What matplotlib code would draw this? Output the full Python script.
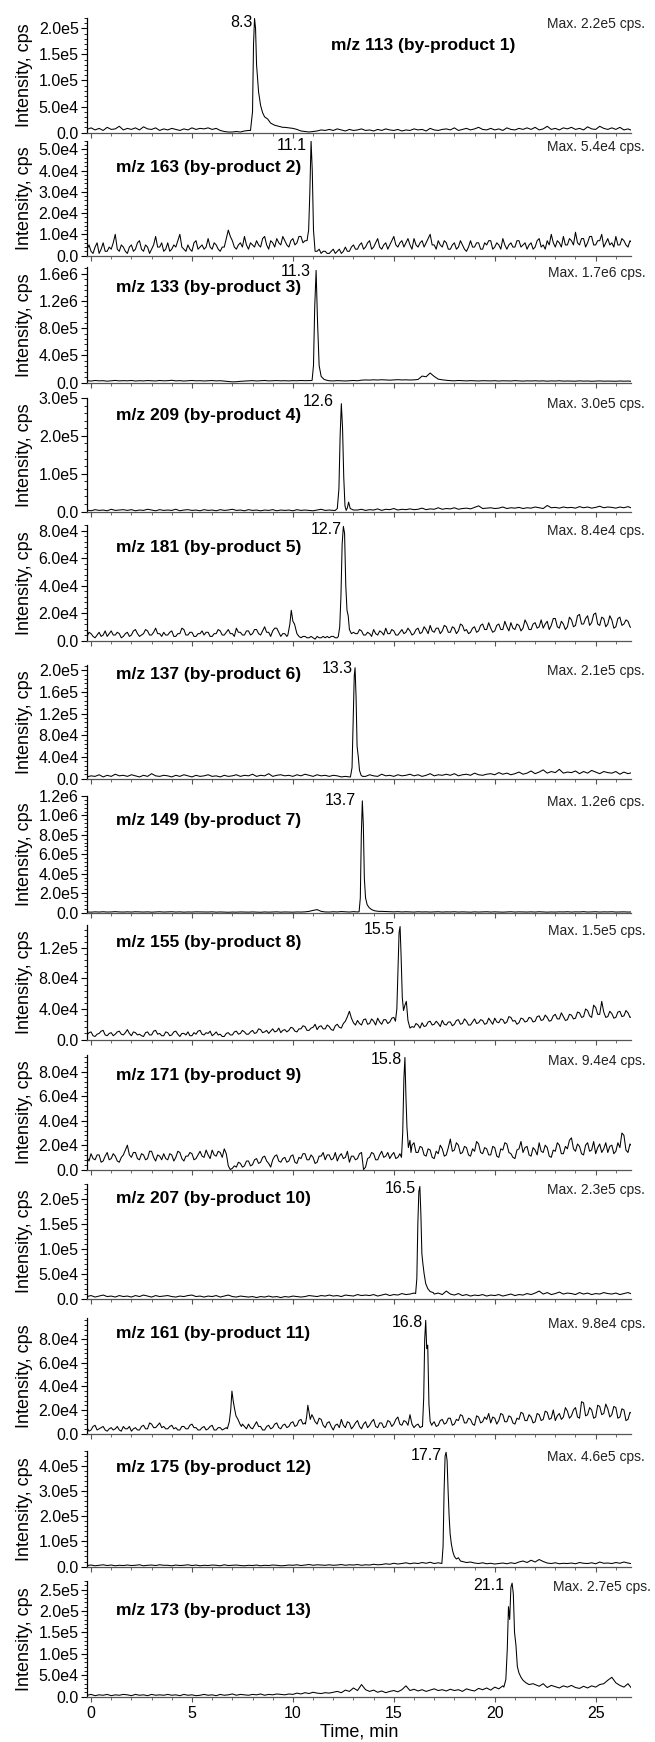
import numpy as np
import matplotlib
matplotlib.use("Agg")
import matplotlib.pyplot as plt
from matplotlib.ticker import MultipleLocator, AutoMinorLocator, FuncFormatter
from matplotlib.transforms import blended_transform_factory

plt.rcParams['font.family'] = ['Liberation Sans', 'DejaVu Sans']

# ---------------- data (intensities in 1e3 cps) ----------------
# baseline lists are sampled evenly from T_START to T_END (min)
T_START, T_END = -0.2, 26.8

titles = ["m/z 113 (by-product 1)", "m/z 163 (by-product 2)", "m/z 133 (by-product 3)",
          "m/z 209 (by-product 4)", "m/z 181 (by-product 5)", "m/z 137 (by-product 6)",
          "m/z 149 (by-product 7)", "m/z 155 (by-product 8)", "m/z 171 (by-product 9)",
          "m/z 207 (by-product 10)", "m/z 161 (by-product 11)", "m/z 175 (by-product 12)",
          "m/z 173 (by-product 13)"]
peak_labels = ["8.3", "11.1", "11.3", "12.6", "12.7", "13.3", "13.7", "15.5", "15.8",
               "16.5", "16.8", "17.7", "21.1"]
max_cps = [2.2e5, 5.4e4, 1.7e6, 3.0e5, 8.4e4, 2.1e5, 1.2e6, 1.5e5, 9.4e4, 2.3e5, 9.8e4, 4.6e5, 2.7e5]
max_labels = ["Max. 2.2e5 cps.", "Max. 5.4e4 cps.", "Max. 1.7e6 cps.", "Max. 3.0e5 cps.",
              "Max. 8.4e4 cps.", "Max. 2.1e5 cps.", "Max. 1.2e6 cps.", "Max. 1.5e5 cps.",
              "Max. 9.4e4 cps.", "Max. 2.3e5 cps.", "Max. 9.8e4 cps.", "Max. 4.6e5 cps.",
              "Max. 2.7e5 cps."]
tick_step = [5e4, 1e4, 4e5, 1e5, 2e4, 4e4, 2e5, 4e4, 2e4, 5e4, 2e4, 1e5, 5e4]
x_ticks = [0, 5, 10, 15, 20, 25]

base_1 = [6, 9, 5, 8, 4, 10, 6, 7, 12, 5,
          8, 6, 9, 5, 11, 7, 6, 9, 4, 7,
          5, 8, 6, 4, 7, 5, 9, 6, 8, 7,
          9, 6, 8, 4, 2, 1, 1, 2, 1, 3,
          4, 30, 120, 50, 30, 22, 16, 13, 11, 10,
          9, 8, 6, 3, 2, 1, 2, 3, 5, 4,
          6, 4, 7, 5, 3, 6, 4, 5, 7, 4,
          5, 3, 6, 4, 7, 5, 4, 6, 3, 5,
          4, 7, 5, 6, 3, 8, 5, 4, 6, 7,
          5, 9, 4, 6, 8, 5, 7, 10, 6, 5,
          8, 5, 7, 4, 9, 6, 5, 8, 6, 9,
          6, 10, 5, 7, 12, 6, 8, 5, 9, 7,
          10, 6, 8, 5, 11, 7, 6, 12, 8, 6,
          9, 6, 10, 5, 7, 4]
peak_1 = [([7.9, 8.0, 8.05, 8.1, 8.15, 8.2, 8.3, 8.4, 8.5, 8.6, 8.75, 8.9, 9.1, 9.3, 9.5],
           [4, 40, 170, 219, 200, 130, 78, 52, 38, 30, 26, 18, 14, 12, 10])]

base_2 = [3, 5, 2, 1, 4, 6, 1, 3, 6, 2, 2, 4, 3, 6, 10, 3, 2, 5, 4, 2,
          1, 4, 5, 2, 3, 6, 7, 3, 2, 5, 4, 1, 3, 5, 9, 4, 4, 6, 2, 3,
          6, 2, 3, 5, 4, 7, 10, 4, 3, 2, 5, 3, 2, 6, 7, 3, 4, 5, 3, 4,
          8, 4, 3, 6, 5, 3, 2, 4, 4, 8, 12, 9, 7, 4, 3, 5, 6, 4, 9, 5,
          3, 6, 5, 4, 7, 5, 4, 8, 9, 5, 3, 7, 6, 4, 8, 6, 5, 9, 7, 5,
          4, 7, 8, 5, 6, 9, 9, 6, 7, 8, 30, 40, 12, 5, 2, 3, 1, 2, 2, 1,
          1, 2, 3, 1, 2, 3, 1, 2, 4, 2, 2, 4, 5, 3, 3, 5, 6, 3, 4, 6,
          7, 3, 4, 6, 8, 4, 3, 5, 6, 3, 5, 7, 9, 5, 4, 6, 7, 4, 6, 8,
          5, 3, 8, 5, 4, 6, 7, 4, 6, 8, 10, 5, 5, 3, 7, 5, 4, 7, 6, 3,
          3, 5, 6, 3, 4, 7, 5, 3, 2, 4, 7, 4, 4, 6, 6, 3, 3, 6, 5, 7,
          7, 3, 4, 6, 5, 3, 8, 5, 3, 5, 6, 4, 4, 7, 7, 4, 5, 6, 3, 5,
          6, 3, 4, 7, 8, 4, 5, 3, 7, 5, 10, 6, 4, 7, 6, 4, 9, 5, 5, 8,
          7, 5, 11, 6, 5, 8, 8, 4, 6, 9, 9, 5, 5, 7, 7, 10, 4, 6, 8, 5,
          6, 4, 9, 5, 5, 8, 7, 5, 4, 7, 6]
peak_2 = [([10.7, 10.78, 10.84, 10.9, 10.96, 11.02, 11.1],
           [7, 12, 30, 54, 40, 12, 2])]

base_3 = [28, 22, 30, 25, 27, 20, 26, 31, 24, 28,
          25, 30, 22, 27, 24, 29, 26, 23, 30, 25,
          27, 33, 24, 28, 22, 26, 30, 25, 27, 23,
          26, 29, 24, 27, 21, 14, 10, 12, 18, 22,
          25, 28, 23, 27, 30, 24, 26, 29, 25, 27,
          24, 28, 26, 30, 27, 29, 200, 400, 60, 30,
          26, 24, 28, 25, 23, 27, 30, 26, 35, 38,
          36, 40, 37, 41, 38, 35, 39, 42, 38, 40,
          37, 39, 45, 95, 85, 140, 90, 50, 40, 33,
          28, 25, 30, 27, 24, 28, 26, 23, 27, 25,
          24, 27, 22, 26, 25, 23, 28, 24, 21, 25,
          23, 26, 22, 25, 20, 24, 22, 26, 21, 23,
          22, 20, 25, 21, 23, 19, 22, 24, 20, 22,
          21, 19, 23, 20, 22, 18]
peak_3 = [([10.95, 11.02, 11.08, 11.15, 11.22, 11.3, 11.4, 11.55, 11.7],
           [30, 250, 1100, 1650, 900, 250, 90, 45, 32])]

base_4 = [4, 2, 5, 3, 4, 2, 6, 3, 4, 5,
          3, 5, 2, 4, 3, 6, 4, 2, 5, 3,
          4, 3, 6, 2, 4, 5, 3, 4, 2, 5,
          3, 4, 2, 5, 3, 4, 6, 3, 4, 2,
          5, 3, 4, 2, 4, 3, 5, 2, 4, 3,
          4, 2, 5, 3, 4, 3, 2, 4, 6, 3,
          4, 3, 5, 100, 150, 10, 2, 4, 6, 3,
          5, 4, 7, 3, 6, 5, 8, 4, 6, 5,
          7, 5, 6, 9, 5, 7, 6, 10, 6, 8,
          7, 10, 6, 8, 9, 7, 11, 15, 8, 9,
          10, 8, 9, 12, 8, 10, 9, 11, 8, 10,
          9, 12, 10, 8, 16, 10, 11, 9, 12, 10,
          11, 9, 13, 10, 12, 9, 11, 14, 10, 12,
          11, 9, 12, 10, 13, 9]
peak_4 = [([12.1, 12.2, 12.28, 12.34, 12.4, 12.46, 12.52, 12.58, 12.64, 12.7, 12.76, 12.84, 13.0],
           [3, 8, 60, 200, 285, 220, 90, 15, 3, 10, 25, 8, 4])]

base_5 = [3, 6, 5, 3, 2, 4, 6, 3, 4, 7, 3, 5, 7, 4, 4, 6, 5, 2, 3, 5,
          6, 3, 4, 7, 8, 5, 3, 4, 5, 8, 7, 4, 4, 6, 9, 5, 5, 3, 6, 4,
          4, 6, 7, 3, 3, 5, 5, 9, 8, 4, 4, 6, 6, 3, 3, 5, 5, 7, 4, 6,
          6, 3, 3, 5, 5, 8, 7, 4, 4, 6, 8, 5, 5, 3, 9, 6, 6, 4, 4, 7,
          7, 4, 5, 8, 8, 5, 4, 7, 10, 6, 6, 3, 7, 9, 9, 6, 3, 5, 5, 3,
          12, 20, 14, 12, 5, 3, 2, 3, 3, 2, 2, 3, 2, 1, 3, 2, 2, 3, 2, 3,
          2, 3, 3, 2, 2, 3, 3, 50, 50, 40, 40, 20, 6, 5, 5, 8, 7, 4, 4, 6,
          5, 3, 8, 5, 4, 7, 6, 4, 9, 5, 5, 8, 7, 4, 4, 6, 8, 5, 6, 9,
          7, 4, 5, 8, 9, 5, 6, 10, 8, 5, 11, 7, 6, 9, 9, 5, 7, 11, 10, 6,
          6, 10, 9, 5, 7, 12, 11, 7, 8, 5, 6, 9, 10, 6, 7, 11, 12, 8, 8, 13,
          9, 6, 7, 11, 12, 8, 8, 14, 10, 7, 13, 9, 8, 12, 11, 7, 9, 15, 12, 8,
          8, 12, 13, 9, 10, 15, 9, 12, 14, 8, 11, 16, 16, 10, 9, 14, 12, 8, 10, 17,
          15, 10, 11, 18, 19, 12, 12, 16, 18, 11, 13, 19, 20, 12, 11, 17, 16, 10, 12, 18,
          15, 9, 10, 16, 17, 11, 12, 15, 14, 10, 9]
peak_5 = [([9.75, 9.85, 9.92, 10.0, 10.08, 10.2, 10.3], [4, 12, 22, 14, 12, 5, 3]),
          ([12.25, 12.32, 12.38, 12.44, 12.5, 12.56, 12.62, 12.68, 12.74, 12.8, 12.9],
           [3, 10, 32, 70, 83, 78, 40, 22, 18, 8, 5])]

base_6 = [3, 5, 4, 7, 3, 6, 4, 8, 5, 6,
          4, 7, 5, 3, 6, 4, 9, 5, 4, 6,
          5, 3, 6, 4, 7, 5, 3, 6, 4, 5,
          7, 4, 5, 3, 6, 4, 5, 7, 4, 6,
          5, 8, 4, 6, 5, 9, 4, 6, 7, 5,
          6, 4, 7, 5, 8, 6, 4, 7, 5, 6,
          4, 6, 5, 3, 4, 3, 80, 20, 6, 4,
          7, 5, 4, 8, 5, 6, 4, 7, 5, 6,
          8, 5, 7, 4, 6, 9, 5, 7, 6, 8,
          6, 9, 5, 7, 8, 6, 10, 7, 6, 8,
          9, 7, 11, 8, 10, 7, 9, 12, 8, 10,
          14, 9, 12, 16, 10, 13, 11, 17, 10, 12,
          11, 14, 9, 13, 10, 15, 12, 9, 13, 11,
          10, 13, 8, 12, 9, 11]
peak_6 = [([12.85, 12.93, 12.99, 13.04, 13.08, 13.13, 13.18, 13.24, 13.3, 13.38, 13.45],
           [3, 20, 110, 190, 205, 150, 60, 40, 15, 6, 4])]

base_7 = [6, 4, 7, 5, 8, 5, 6, 9, 6, 5,
          7, 5, 8, 6, 5, 7, 4, 6, 8, 5,
          6, 8, 5, 7, 4, 6, 5, 7, 6, 4,
          5, 7, 4, 6, 5, 3, 5, 4, 6, 5,
          4, 6, 5, 3, 6, 4, 5, 7, 4, 6,
          5, 4, 6, 5, 7, 12, 22, 30, 12, 6,
          5, 8, 6, 10, 7, 5, 9, 6, 600, 200,
          60, 30, 18, 12, 10, 8, 7, 9, 6, 8,
          7, 5, 8, 6, 7, 5, 6, 8, 5, 7,
          6, 8, 5, 7, 6, 4, 7, 5, 6, 8,
          5, 7, 6, 4, 6, 8, 5, 7, 6, 5,
          7, 5, 8, 6, 4, 6, 5, 7, 6, 8,
          5, 7, 6, 9, 5, 6, 8, 5, 7, 6,
          8, 5, 6, 7, 5, 6]
peak_7 = [([13.28, 13.34, 13.39, 13.44, 13.49, 13.54, 13.6, 13.68, 13.78, 13.9, 14.05, 14.25],
           [8, 150, 800, 1150, 900, 350, 150, 80, 50, 30, 18, 12])]

base_8 = [6, 9, 10, 5, 4, 7, 8, 11, 12, 6, 5, 8, 9, 5, 7, 10, 11, 7, 6, 9,
          13, 8, 5, 10, 9, 6, 7, 5, 4, 9, 10, 6, 6, 11, 12, 7, 8, 5, 5, 10,
          9, 5, 6, 10, 11, 7, 4, 8, 8, 6, 10, 5, 5, 9, 7, 11, 12, 7, 6, 9,
          8, 11, 5, 7, 10, 6, 7, 4, 4, 8, 9, 6, 6, 10, 11, 7, 8, 12, 10, 7,
          7, 10, 12, 8, 9, 14, 13, 9, 10, 12, 8, 11, 14, 10, 11, 15, 9, 12, 13, 10,
          12, 16, 15, 11, 10, 14, 14, 18, 17, 12, 12, 15, 16, 20, 13, 17, 18, 14, 14, 19,
          17, 13, 12, 18, 20, 16, 15, 21, 24, 30, 37, 28, 22, 19, 25, 21, 19, 26, 27, 20,
          21, 27, 24, 19, 28, 23, 20, 26, 26, 21, 23, 28, 29, 24, 40, 80, 80, 60, 30, 40,
          22, 18, 16, 21, 19, 15, 22, 17, 18, 23, 24, 19, 20, 24, 21, 17, 25, 20, 19, 23,
          23, 18, 20, 25, 26, 20, 21, 27, 24, 19, 19, 23, 27, 21, 22, 26, 25, 20, 21, 28,
          24, 20, 28, 23, 22, 27, 26, 21, 23, 30, 29, 24, 25, 20, 22, 28, 27, 23, 24, 29,
          28, 23, 24, 30, 31, 25, 26, 32, 29, 24, 25, 31, 33, 27, 27, 35, 30, 25, 26, 33,
          32, 27, 28, 36, 35, 29, 30, 40, 38, 31, 29, 45, 42, 33, 33, 50, 36, 29, 30, 37,
          34, 28, 29, 36, 37, 30, 31, 38, 35, 29, 30]
peak_8 = [([15.08, 15.15, 15.21, 15.26, 15.31, 15.36, 15.42, 15.48, 15.55, 15.62, 15.7, 15.8, 15.9],
           [24, 40, 95, 140, 148, 110, 55, 38, 45, 50, 25, 15, 17])]

base_9 = [10, 7, 13, 9, 8, 12, 12, 6, 7, 11, 14, 8, 9, 13, 11, 7, 6, 10, 12, 16,
          20, 12, 10, 14, 14, 9, 8, 13, 12, 8, 9, 15, 15, 10, 7, 12, 11, 8, 13, 9,
          8, 13, 12, 7, 10, 15, 14, 9, 7, 11, 11, 14, 13, 8, 9, 12, 15, 11, 10, 16,
          12, 9, 16, 12, 11, 15, 14, 10, 17, 13, 3, 0, 1, 3, 2, 6, 5, 2, 3, 7,
          7, 3, 4, 8, 9, 5, 6, 10, 11, 7, 5, 2, 8, 11, 12, 7, 6, 9, 10, 6,
          7, 11, 12, 6, 5, 10, 9, 13, 13, 8, 8, 12, 10, 5, 6, 11, 11, 14, 8, 12,
          12, 8, 9, 14, 7, 11, 13, 9, 10, 15, 6, 11, 11, 8, 9, 13, 14, 0, 2, 9,
          10, 14, 13, 8, 8, 12, 15, 10, 11, 14, 9, 12, 14, 9, 10, 13, 12, 30, 50, 70,
          15, 20, 22, 14, 14, 19, 18, 12, 11, 17, 16, 10, 9, 15, 13, 20, 17, 11, 12, 18,
          25, 15, 16, 22, 20, 13, 14, 19, 18, 12, 11, 17, 15, 23, 21, 14, 13, 18, 17, 12,
          12, 19, 18, 11, 10, 17, 16, 22, 21, 14, 13, 10, 9, 16, 17, 23, 14, 18, 19, 12,
          11, 18, 16, 12, 22, 15, 14, 20, 18, 11, 10, 16, 15, 22, 20, 13, 13, 19, 17, 24,
          26, 17, 15, 21, 19, 13, 12, 20, 22, 15, 16, 23, 13, 18, 21, 14, 17, 22, 14, 19,
          20, 13, 15, 22, 18, 30, 28, 16, 14, 21, 19]
peak_9 = [([15.38, 15.44, 15.5, 15.55, 15.6, 15.65, 15.72, 15.8, 15.85],
           [10, 30, 75, 92, 60, 35, 18, 24, 14])]

base_10 = [4, 6, 3, 5, 7, 4, 5, 3, 6, 4,
           5, 3, 6, 4, 7, 5, 3, 6, 4, 5,
           6, 4, 3, 5, 4, 6, 7, 4, 5, 3,
           5, 4, 6, 3, 5, 7, 4, 3, 5, 4,
           3, 4, 2, 4, 3, 5, 3, 4, 2, 4,
           3, 5, 4, 3, 4, 6, 5, 4, 6, 5,
           7, 5, 6, 4, 7, 6, 5, 8, 6, 7,
           6, 8, 5, 7, 9, 6, 8, 7, 10, 8,
           9, 11, 200, 60, 20, 12, 9, 11, 8, 15,
           9, 7, 10, 6, 8, 5, 7, 6, 8, 5,
           7, 6, 8, 5, 7, 9, 6, 8, 7, 10,
           8, 11, 15, 9, 12, 8, 10, 13, 9, 11,
           10, 8, 12, 9, 11, 8, 10, 9, 12, 10,
           9, 11, 8, 10, 12, 9]
peak_10 = [([16.08, 16.14, 16.19, 16.24, 16.29, 16.34, 16.39, 16.44, 16.5, 16.58, 16.68, 16.8, 16.95],
            [10, 40, 150, 215, 225, 170, 90, 70, 50, 30, 20, 14, 12])]

base_11 = [5, 2, 3, 6, 7, 3, 4, 5, 6, 3, 2, 4, 5, 3, 4, 6, 3, 2, 6, 4,
           4, 6, 2, 4, 5, 3, 3, 6, 7, 4, 4, 9, 8, 5, 5, 7, 9, 5, 6, 4,
           4, 6, 7, 4, 5, 3, 3, 6, 6, 4, 4, 7, 8, 5, 5, 3, 3, 5, 6, 3,
           4, 6, 7, 3, 3, 5, 5, 3, 4, 5, 20, 30, 30, 20, 15, 12, 9, 8, 6, 4,
           8, 5, 4, 7, 10, 6, 6, 3, 3, 6, 7, 4, 5, 8, 9, 5, 4, 7, 8, 5,
           6, 9, 10, 6, 7, 11, 12, 8, 9, 7, 25, 18, 14, 10, 8, 13, 12, 7, 5, 9,
           10, 6, 3, 7, 8, 5, 12, 7, 5, 10, 9, 4, 6, 9, 11, 6, 4, 8, 10, 5,
           7, 10, 12, 6, 5, 9, 9, 5, 6, 11, 10, 6, 8, 12, 14, 8, 7, 11, 10, 7,
           16, 8, 5, 7, 8, 5, 6, 4, 50, 80, 60, 8, 10, 6, 7, 11, 12, 8, 9, 13,
           13, 7, 8, 12, 11, 16, 15, 9, 9, 13, 12, 8, 7, 15, 14, 9, 10, 14, 12, 17,
           9, 14, 13, 8, 11, 17, 16, 10, 10, 15, 14, 9, 8, 13, 12, 18, 17, 11, 11, 16,
           14, 9, 10, 17, 16, 11, 12, 19, 18, 12, 13, 20, 11, 15, 17, 12, 14, 22, 19, 13,
           15, 20, 22, 14, 13, 27, 26, 15, 16, 22, 20, 13, 14, 24, 23, 16, 17, 25, 21, 14,
           16, 23, 22, 13, 14, 21, 20, 11, 12, 18, 17]
peak_11 = [([6.75, 6.85, 6.92, 6.98, 7.04, 7.1, 7.18, 7.28, 7.38, 7.45],
            [4, 10, 20, 36, 28, 22, 15, 12, 8, 6]),
           ([10.62, 10.68, 10.74, 10.8, 10.86, 10.94], [8, 14, 24, 18, 12, 16]),
           ([16.42, 16.48, 16.53, 16.58, 16.63, 16.68, 16.74, 16.8, 16.88],
            [6, 30, 80, 96, 72, 75, 25, 10, 7])]

base_12 = [4, 6, 3, 5, 7, 4, 6, 3, 5, 4,
           6, 4, 5, 7, 3, 5, 6, 4, 7, 5,
           5, 3, 6, 4, 5, 7, 4, 6, 3, 5,
           4, 6, 5, 3, 7, 4, 5, 6, 4, 3,
           5, 4, 6, 3, 5, 4, 6, 5, 3, 4,
           6, 5, 7, 4, 6, 8, 5, 7, 6, 5,
           7, 5, 6, 8, 5, 7, 6, 8, 5, 7,
           6, 9, 7, 8, 11, 9, 13, 10, 12, 15,
           11, 14, 12, 16, 13, 17, 12, 15, 20, 400,
           150, 40, 25, 20, 16, 18, 14, 12, 15, 11,
           13, 10, 12, 14, 11, 15, 12, 18, 22, 16,
           25, 18, 28, 20, 14, 12, 15, 11, 13, 12,
           14, 11, 16, 13, 12, 15, 11, 18, 13, 14,
           12, 16, 13, 18, 14, 11]
peak_12 = [([17.38, 17.44, 17.49, 17.54, 17.59, 17.64, 17.69, 17.74, 17.79, 17.85, 17.92, 18.0,
             18.1, 18.2, 18.3, 18.4],
            [12, 80, 300, 440, 455, 420, 300, 200, 130, 90, 60, 40, 30, 35, 22, 20])]

base_13 = [3, 5, 2, 4, 3, 5, 2, 4, 3, 5,
           4, 2, 5, 3, 4, 2, 5, 3, 4, 3,
           5, 3, 4, 2, 5, 3, 4, 2, 3, 5,
           3, 4, 2, 5, 3, 4, 6, 3, 5, 4,
           3, 5, 4, 6, 3, 5, 4, 6, 5, 4,
           6, 5, 8, 6, 9, 7, 10, 8, 7, 9,
           8, 10, 12, 9, 15, 12, 20, 14, 28, 16,
           12, 15, 10, 13, 9, 12, 14, 11, 16, 25,
           14, 17, 13, 16, 12, 15, 18, 14, 16, 13,
           17, 14, 16, 12, 18, 15, 13, 19, 16, 20,
           15, 22, 18, 25, 80, 250, 160, 60, 40, 35,
           32, 28, 24, 30, 21, 26, 23, 20, 25, 22,
           26, 21, 19, 24, 20, 25, 22, 28, 30, 38,
           45, 32, 26, 22, 30, 18]
peak_13 = [([20.45, 20.55, 20.62, 20.68, 20.74, 20.8, 20.86, 20.92, 20.98, 21.05, 21.12, 21.2,
             21.3, 21.4, 21.55, 21.7, 21.9],
            [22, 40, 110, 210, 180, 255, 265, 240, 150, 120, 70, 55, 45, 38, 32, 28, 30])]

bases = [base_1, base_2, base_3, base_4, base_5, base_6, base_7, base_8, base_9,
         base_10, base_11, base_12, base_13]
peaks = [peak_1, peak_2, peak_3, peak_4, peak_5, peak_6, peak_7, peak_8, peak_9,
         peak_10, peak_11, peak_12, peak_13]

# ---------------- layout (pixels / text placement) ----------------
FIG_W, FIG_H = 655, 1742
AX_LEFT_PX, AX_RIGHT_PX = 87, 631
baseline_px = [133, 256, 383, 512, 641, 779, 913, 1040, 1170, 1299, 1434, 1567, 1697]
height_px = [115, 115, 116, 114, 116, 114, 117, 115, 115, 115, 116, 116, 116]
title_x = [11.9] + [1.24] * 12
title_y = [0.76, 0.77, 0.82, 0.85, 0.81, 0.92, 0.79, 0.85, 0.82, 0.87, 0.87, 0.86, 0.75]
label_x = [8.01, 10.69, 10.90, 12.04, 12.41, 12.97, 13.11, 15.04, 15.39, 16.11, 16.44, 17.37, 20.45]
max_x = [1.026] * 12 + [1.037]


def build_trace(base, segs):
    t = np.linspace(T_START, T_END, len(base))
    v = np.asarray(base, dtype=float)
    keep = np.ones(len(t), dtype=bool)
    for st, sv in segs:
        keep &= ~((t >= st[0] - 1e-6) & (t <= st[-1] + 1e-6))
    tt = np.concatenate([t[keep]] + [np.asarray(s[0], float) for s in segs])
    vv = np.concatenate([v[keep]] + [np.asarray(s[1], float) for s in segs])
    o = np.argsort(tt)
    return tt[o], vv[o] * 1e3


def sci_fmt(val, pos):
    if abs(val) < 1e-9:
        return "0.0"
    e = int(np.floor(np.log10(abs(val))))
    m = val / 10 ** e
    if round(m, 1) >= 10:
        m /= 10
        e += 1
    return f"{m:.1f}e{e}"


fig = plt.figure(figsize=(FIG_W / 100, FIG_H / 100), dpi=100)

n = len(bases)
for i in range(n):
    bottom = 1 - baseline_px[i] / FIG_H
    ax = fig.add_axes([AX_LEFT_PX / FIG_W, bottom,
                       (AX_RIGHT_PX - AX_LEFT_PX) / FIG_W, height_px[i] / FIG_H])
    t, v = build_trace(bases[i], peaks[i])
    ax.plot(t, v, color='black', lw=0.75)
    ymax = max_cps[i]
    ax.set_xlim(-0.2, 26.75)
    ax.set_ylim(-0.004 * ymax, ymax)

    for s in ('top', 'right'):
        ax.spines[s].set_visible(False)
    ax.spines['left'].set_color('black')
    ax.spines['left'].set_linewidth(0.9)
    ax.spines['bottom'].set_color('#555555')
    ax.spines['bottom'].set_linewidth(0.9)

    ax.yaxis.set_major_locator(MultipleLocator(tick_step[i]))
    ax.yaxis.set_minor_locator(AutoMinorLocator(5))
    ax.yaxis.set_major_formatter(FuncFormatter(sci_fmt))
    ax.tick_params(axis='y', which='major', direction='out', length=4, width=0.8,
                   labelsize=11.5, pad=2, colors='black')
    ax.tick_params(axis='y', which='minor', direction='out', length=2, width=0.6)

    ax.xaxis.set_major_locator(MultipleLocator(5))
    ax.xaxis.set_minor_locator(MultipleLocator(1))
    ax.tick_params(axis='x', which='major', direction='out', length=3.5, width=0.8,
                   labelsize=11.5, pad=3, color='#555555')
    ax.tick_params(axis='x', which='minor', direction='out', length=1.8, width=0.6,
                   color='#555555')
    if i < n - 1:
        ax.tick_params(axis='x', labelbottom=False)
    else:
        ax.set_xticks(x_ticks)
        ax.set_xticklabels([str(x) for x in x_ticks])
        ax.set_xlabel("Time, min", fontsize=13, labelpad=2)

    ax.set_ylabel("Intensity, cps", fontsize=13)
    ax.yaxis.set_label_coords(-0.1, 0.5)

    tr = blended_transform_factory(ax.transData, ax.transAxes)
    ax.text(title_x[i], title_y[i], titles[i], transform=tr, fontsize=12.5,
            fontweight='bold', ha='left', va='center')
    ax.text(label_x[i], 0.965, peak_labels[i], transform=tr, fontsize=11.5,
            ha='right', va='center')
    ax.text(max_x[i], 0.95, max_labels[i], transform=ax.transAxes, fontsize=10,
            ha='right', va='center', color='#222222')

fig.savefig("out.png", dpi=100, facecolor='white')
